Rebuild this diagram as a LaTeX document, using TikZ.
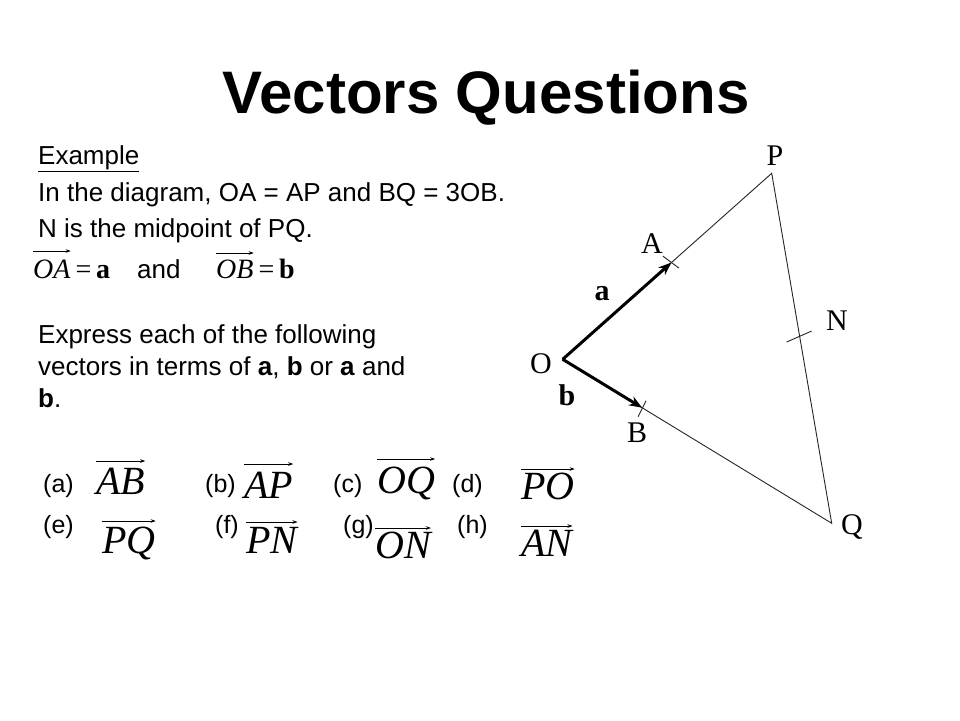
\documentclass[tikz,border=0pt]{standalone}
\usepackage{fontspec}
\setmainfont{Liberation Serif}
\setsansfont{Liberation Sans}
\usetikzlibrary{arrows.meta,calc}
\begin{document}
\begin{tikzpicture}[x=1pt,y=-1pt,
  body/.style={font=\sffamily\fontsize{26}{30}\selectfont, inner sep=0pt, anchor=base west},
  lbl/.style={font=\sffamily\fontsize{25}{30}\selectfont, inner sep=0pt, anchor=base west},
  vecname/.style={font=\itshape\fontsize{40}{44}\selectfont, inner sep=0pt, anchor=base west},
  smallvec/.style={font=\itshape\fontsize{28}{32}\selectfont, inner sep=0pt, anchor=base west},
  smalleq/.style={font=\fontsize{28}{32}\selectfont, inner sep=0pt, anchor=base west},
  vecbar/.style={line width=0.8pt, -{Stealth[length=5pt,width=3.5pt]}},
  ptlabel/.style={font=\fontsize{30}{34}\selectfont, inner sep=0pt, anchor=base},
  veclabel/.style={font=\bfseries\fontsize{30}{34}\selectfont, inner sep=0pt, anchor=base},
  side/.style={line width=0.9pt, black!85},
  vecthick/.style={line width=3pt, -{Stealth[length=13pt,width=10pt]}},
  tickmark/.style={line width=0.9pt, black!85}]
\useasboundingbox[fill=white] (0,0) rectangle (960,720);

% title
\node[font=\sffamily\bfseries\fontsize{60}{66}\selectfont, inner sep=0pt, anchor=base] (title) at (486,113) {Vectors Questions};

% text block
\node[body] (ex) at (38,164) {\underline{Example}};
\node[body] (l1) at (38,201) {In the diagram, OA = AP and BQ = 3OB.};
\node[body] (l2) at (38,237) {N is the midpoint of PQ.};
\node[smallvec] (oa) at (33,278) {OA};
\node[smalleq] (oaeq) at (oa.base east) {\,=\,\textbf{a}};
\draw[vecbar] ([yshift=27pt]oa.base west) -- ([yshift=27pt]oa.base east);
\node[body] (and) at (137,278) {and};
\node[smallvec] (ob) at (216,278) {OB};
\node[smalleq] (obeq) at (ob.base east) {\,=\,\textbf{b}};
\draw[vecbar] ([yshift=25pt]ob.base west) -- ([yshift=25pt]ob.base east);

\node[body] (e1) at (38,343) {Express each of the following};
\node[body] (e2) at (38,375) {vectors in terms of \textbf{a}, \textbf{b} or \textbf{a} and};
\node[body] (e3) at (38,407) {\textbf{b}.};

% questions
\node[lbl] (qa) at (43,492) {(a)};
\node[lbl] (qb) at (205,492) {(b)};
\node[lbl] (qc) at (333,492) {(c)};
\node[lbl] (qd) at (452,492) {(d)};
\node[lbl] (qe) at (43,533) {(e)};
\node[lbl] (qf) at (215,533) {(f)};
\node[lbl] (qg) at (343,533) {(g)};
\node[lbl] (qh) at (457,533) {(h)};

\node[vecname] (vab) at (96,494) {AB};
\node[vecname] (vap) at (244,498) {AP};
\node[vecname] (voq) at (377,493) {OQ};
\node[vecname] (vpo) at (521,499) {PO};
\node[vecname] (vpq) at (102,553) {PQ};
\node[vecname] (vpn) at (246,553) {PN};
\node[vecname] (von) at (375,558) {ON};
\node[vecname] (van) at (521,556) {AN};
\foreach \v/\h in {vab/33,vap/34,voq/34,vpo/30,vpq/32,vpn/31,von/30,van/30}{
  \draw[vecbar] ([yshift=\h pt]\v.base west) -- ([yshift=\h pt]\v.base east);
}

% diagram
\coordinate (O) at (562.7,359.3);
\coordinate (P) at (771.7,173.3);
\coordinate (Q) at (831.7,523.3);
\coordinate (A) at ($(O)!0.52!(P)$);
\coordinate (B) at ($(O)!0.295!(Q)$);
\coordinate (N) at ($(P)!0.465!(Q)$);
\draw[side] (O) -- (P) -- (Q) -- cycle;
\draw[vecthick] (O) -- (A);
\draw[vecthick] (O) -- (B);
\draw[tickmark] ($(A)+(-8.5,-6.5)$) -- ($(A)+(7.5,5.5)$);
\draw[tickmark] ($(B)+(-4,9)$) -- ($(B)+(4,-7)$);
\draw[tickmark] ($(N)+(-13,6)$) -- ($(N)+(12,-5)$);

\node[ptlabel] (lP) at (775,165) {P};
\node[ptlabel] (lA) at (652,253) {A};
\node[veclabel] (la) at (602,300) {a};
\node[ptlabel] (lN) at (837,330) {N};
\node[ptlabel] (lO) at (541,373) {O};
\node[veclabel] (lb) at (567,405) {b};
\node[ptlabel] (lB) at (637,442) {B};
\node[ptlabel] (lQ) at (852,534) {Q};
\end{tikzpicture}
\end{document}
